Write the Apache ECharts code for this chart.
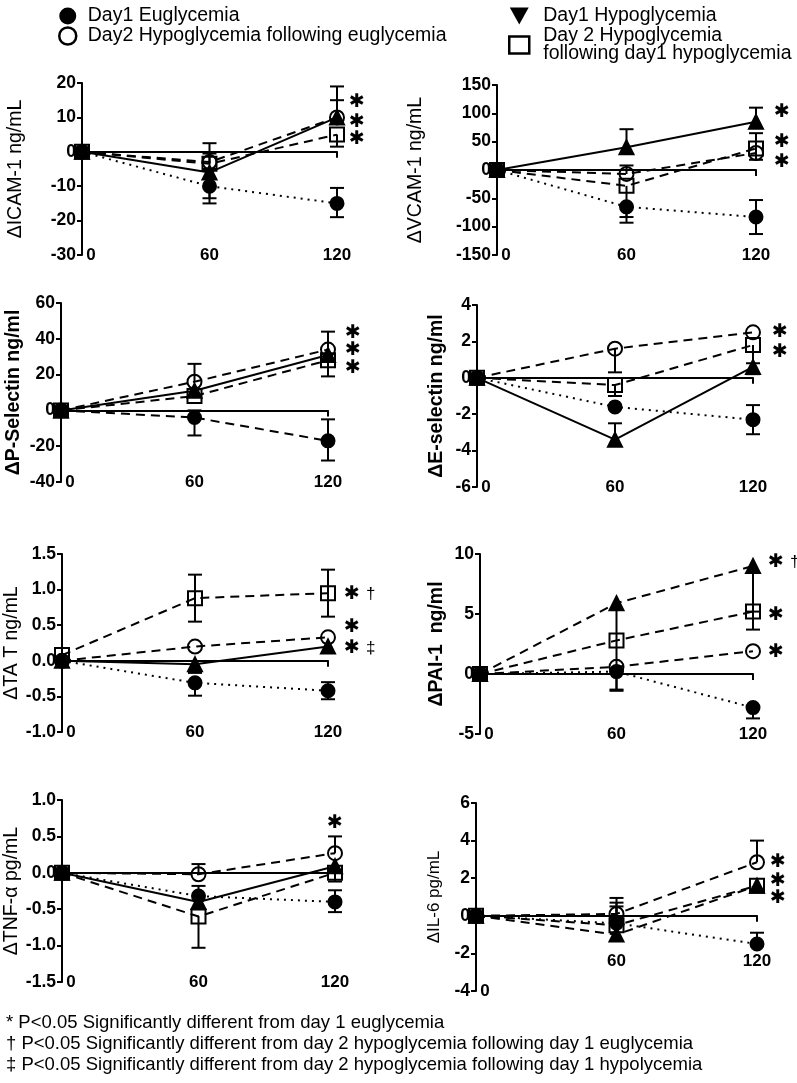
<!DOCTYPE html>
<html>
<head>
<meta charset="utf-8">
<script src="https://cdn.jsdelivr.net/npm/echarts@6/dist/echarts.min.js"></script>
<style>
  html, body { margin: 0; padding: 0; background: #fff; }
  #chart { width: 797px; height: 1083px; }
</style>
</head>
<body>
<div id="chart"></div>
<script>
const times = [0, 60, 120]
const groups = [
  'Day1 Euglycemia',
  'Day2 Hypoglycemia following euglycemia',
  'Day1 Hypoglycemia',
  'Day 2 Hypoglycemia\nfollowing day1 hypoglycemia'
]

// rows follow groups, columns follow times
const icamMean = [[0, -10, -15], [0, -3, 10], [0, -6, 10], [0, -3.5, 5]]
const icamErrDown = [[0, 5, 4], [0, 0, 0], [0, 7.5, 0], [0, 0, 3.5]]
const icamErrUp = [[0, 5, 4.5], [0, 5.5, 9], [0, 0, 5], [0, 3, 0]]

const vcamMean = [[0, -65, -83], [0, -7, 30], [0, 40, 85], [0, -28, 38]]
const vcamErrDown = [[0, 28, 30], [0, 0, 0], [0, 0, 0], [0, 55, 20]]
const vcamErrUp = [[0, 0, 30], [0, 15, 35], [0, 32, 25], [0, 0, 0]]

const pselMean = [[0, -4, -17], [0, 16, 34], [0, 11, 31], [0, 8, 28]]
const pselErrDown = [[0, 10, 11], [0, 0, 0], [0, 0, 0], [0, 0, 9]]
const pselErrUp = [[0, 4, 12], [0, 10, 10], [0, 0, 0], [0, 0, 0]]

const eselMean = [[0, -1.6, -2.3], [0, 1.6, 2.5], [0, -3.4, 0.6], [0, -0.4, 1.8]]
const eselErrDown = [[0, 0, 0.8], [0, 1.3, 0], [0, 0, 0.4], [0, 0.6, 1.0]]
const eselErrUp = [[0, 0, 0.8], [0, 0, 0], [0, 0.9, 0], [0, 0, 0]]

const tatMean = [[0, -0.31, -0.42], [0, 0.2, 0.33], [0, -0.05, 0.2], [0.08, 0.88, 0.95]]
const tatErrDown = [[0, 0.18, 0.12], [0, 0, 0], [0, 0.12, 0], [0, 0.33, 0.33]]
const tatErrUp = [[0, 0, 0.12], [0, 0, 0], [0, 0, 0], [0, 0.33, 0.33]]

const paiMean = [[0, 0.2, -2.8], [0, 0.6, 1.9], [0, 5.9, 9], [0, 2.8, 5.2]]
const paiErrDown = [[0, 1.5, 0.9], [0, 0, 0], [0, 7.3, 3.8], [0, 0, 1.5]]
const paiErrUp = [[0, 0, 0], [0, 0, 0], [0, 0, 0], [0, 0, 0]]

const tnfMean = [[0, -0.32, -0.4], [0, -0.02, 0.27], [0, -0.4, 0.09], [0, -0.6, 0]]
const tnfErrDown = [[0, 0, 0.14], [0, 0, 0], [0, 0, 0], [0, 0.43, 0.12]]
const tnfErrUp = [[0, 0, 0.16], [0, 0.14, 0.23], [0, 0.22, 0], [0, 0, 0]]

const il6Mean = [[0, -0.4, -1.5], [0, 0.1, 2.85], [0, -1.0, 1.6], [0, -0.5, 1.6]]
const il6ErrDown = [[0, 0, 0], [0, 0, 0], [0, 0, 0], [0, 0, 0]]
const il6ErrUp = [[0, 0, 0.6], [0, 0.85, 1.15], [0, 1.5, 0], [0, 1.2, 0]]

const footnotes = [
  '* P<0.05 Significantly different from day 1 euglycemia',
  '† P<0.05 Significantly different from day 2 hypoglycemia following day 1 euglycemia',
  '‡ P<0.05 Significantly different from day 2 hypoglycemia following day 1 hypolycemia'
]

const FONT = 'Liberation Sans, Arial, Helvetica, sans-serif'
const STD = ['dotted', 'dashed', 'solid', 'dashed']

const panels = [
  { title: 'ΔICAM-1 ng/mL', mean: icamMean, down: icamErrDown, up: icamErrUp, min: -30, max: 20, step: 10,
    left: 82, top: 83, width: 255, height: 172, gap: 56, bold: false, lines: STD },
  { title: 'ΔVCAM-1 ng/mL', mean: vcamMean, down: vcamErrDown, up: vcamErrUp, min: -150, max: 150, step: 50,
    left: 497, top: 85, width: 259, height: 170, gap: 71, bold: false, lines: STD },
  { title: 'ΔP-Selectin ng/ml', mean: pselMean, down: pselErrDown, up: pselErrUp, min: -40, max: 60, step: 20,
    left: 61, top: 303, width: 267, height: 179, gap: 37, bold: true, lines: ['dashed', 'dashed', 'solid', 'dashed'] },
  { title: 'ΔE-selectin ng/ml', mean: eselMean, down: eselErrDown, up: eselErrUp, min: -6, max: 4, step: 2,
    left: 477, top: 305, width: 276, height: 182, gap: 30, bold: true, lines: STD },
  { title: 'ΔTA T ng/mL', mean: tatMean, down: tatErrDown, up: tatErrUp, min: -1, max: 1.5, step: 0.5,
    left: 62, top: 554, width: 266, height: 178, gap: 38, bold: false, dec: 1, lines: STD },
  { title: 'ΔPAI-1  ng/ml', mean: paiMean, down: paiErrDown, up: paiErrUp, min: -5, max: 10, step: 5,
    left: 480, top: 554, width: 273, height: 180, gap: 33, bold: true, lines: ['dotted', 'dashed', 'dashed', 'dashed'] },
  { title: 'ΔTNF-α pg/mL', mean: tnfMean, down: tnfErrDown, up: tnfErrUp, min: -1.5, max: 1, step: 0.5,
    left: 62, top: 800, width: 273, height: 182, gap: 39, bold: false, dec: 1, lines: STD },
  { title: 'ΔIL-6 pg/mL', mean: il6Mean, down: il6ErrDown, up: il6ErrUp, min: -4, max: 6, step: 2,
    left: 476, top: 803, width: 281, height: 188, gap: 33, bold: false, titleSize: 17, liftLabels: 60,
    lines: ['dotted', 'dashed', 'dashed', 'dashed'] }
]

// significance marks beside the 120 min points (pixel layout)
const sigMarks = [
  [357, 102, ''], [357, 122, ''], [357, 139, ''],
  [782, 112, ''], [782, 142, ''], [782, 162, ''],
  [353, 333, ''], [353, 350, ''], [353, 368, ''],
  [780, 332, ''], [780, 352, ''],
  [352, 594, '†'], [352, 627, ''], [352, 648, '‡'],
  [776, 562, '†'], [776, 615, ''], [776, 652, ''],
  [335, 823, ''],
  [778, 862, ''], [778, 881, ''], [778, 898, '']
]

const symbols = ['circle', 'circle', 'triangle', 'rect']
const symbolSizes = [13, 14, 14, 14]
const fills = ['#000', 'rgba(0,0,0,0)', '#000', 'rgba(0,0,0,0)']
const dashes = { dotted: [2, 5], dashed: [9, 6], solid: 'solid' }

function renderErrorBar(params, api) {
  const x = api.value(0), m = api.value(1), lo = api.value(2), hi = api.value(3)
  const pLo = api.coord([x, lo])
  const pHi = api.coord([x, hi])
  const cap = 7
  const style = { stroke: '#000', lineWidth: 2 }
  const children = [{ type: 'line', shape: { x1: pLo[0], y1: pLo[1], x2: pHi[0], y2: pHi[1] }, style }]
  if (lo < m) children.push({ type: 'line', shape: { x1: pLo[0] - cap, y1: pLo[1], x2: pLo[0] + cap, y2: pLo[1] }, style })
  if (hi > m) children.push({ type: 'line', shape: { x1: pHi[0] - cap, y1: pHi[1], x2: pHi[0] + cap, y2: pHi[1] }, style })
  return { type: 'group', children }
}

const grid = [], xAxis = [], yAxis = [], series = []

panels.forEach((p, i) => {
  grid.push({ left: p.left, top: p.top, width: p.width, height: p.height, outerBoundsMode: 'none' })

  // the axis line sits on y = 0, its labels stay along the bottom edge
  const lift = p.liftLabels || 0
  xAxis.push({
    type: 'value', gridIndex: i, position: 'bottom', min: 0, max: 120, interval: 60,
    axisLine: { show: true, onZero: true, lineStyle: { color: '#000', width: 2 } },
    axisTick: { show: true, customValues: [120], length: 6, lineStyle: { color: '#000', width: 2 } },
    splitLine: { show: false },
    axisLabel: {
      margin: 0, verticalAlign: 'middle', color: '#000', fontFamily: FONT, fontSize: 17, fontWeight: 'bold',
      formatter: v => v === 0 ? '{z|0}' : (lift ? '{up|' + v + '}' : String(v)),
      rich: {
        z: { padding: [0, 0, 0, 18], fontFamily: FONT, fontSize: 17, fontWeight: 'bold', color: '#000' },
        up: { padding: [0, 0, lift, 0], fontFamily: FONT, fontSize: 17, fontWeight: 'bold', color: '#000' }
      }
    }
  })
  yAxis.push({
    type: 'value', gridIndex: i, min: p.min, max: p.max, interval: p.step,
    name: p.title, nameLocation: 'middle', nameRotate: 90, nameGap: p.gap,
    nameTextStyle: { color: '#000', fontFamily: FONT, fontSize: p.titleSize || 19.5, fontWeight: p.bold ? 'bold' : 'normal' },
    axisLine: { show: true, onZero: false, lineStyle: { color: '#000', width: 2 } },
    axisTick: { show: true, length: 5, lineStyle: { color: '#000', width: 2 } },
    axisLabel: {
      margin: 6, color: '#000', fontFamily: FONT, fontSize: 17.5, fontWeight: 'bold',
      formatter: v => p.dec ? v.toFixed(p.dec) : String(v)
    },
    splitLine: { show: false }
  })

  groups.forEach((name, g) => {
    series.push({
      name, type: 'line', xAxisIndex: i, yAxisIndex: i, z: 3, clip: false,
      data: times.map((t, k) => [t, p.mean[g][k]]),
      symbol: symbols[g], symbolSize: symbolSizes[g],
      lineStyle: { color: '#000', width: 2, type: dashes[p.lines[g]] },
      itemStyle: { color: fills[g], borderColor: '#000', borderWidth: 2 }
    })
    const bars = []
    times.forEach((t, k) => {
      const m = p.mean[g][k], d = p.down[g][k], u = p.up[g][k]
      if (d > 0 || u > 0) bars.push([t, m, m - d, m + u])
    })
    series.push({
      name, type: 'custom', xAxisIndex: i, yAxisIndex: i, z: 2,
      renderItem: renderErrorBar, data: bars, encode: { x: 0, y: [2, 3] }
    })
  })
})

const graphic = []
sigMarks.forEach(([x, y, extra]) => {
  graphic.push({ type: 'text', x, y, style: { text: '✱', fill: '#000', font: 'bold 19px DejaVu Sans', align: 'center', verticalAlign: 'middle' } })
  if (extra) graphic.push({ type: 'text', x: x + 14, y, style: { text: extra, fill: '#000', font: '17px ' + FONT, align: 'left', verticalAlign: 'middle' } })
})
footnotes.forEach((t, k) => {
  graphic.push({ type: 'text', x: 6, y: 1023 + 21 * k, style: { text: t, fill: '#000', font: '18.5px ' + FONT, verticalAlign: 'middle' } })
})

const legendText = { color: '#000', fontFamily: FONT, fontSize: 19.5, lineHeight: 18, padding: [0, 0, 0, 6] }

const chart = echarts.init(document.getElementById('chart'), null, { renderer: 'canvas' })
chart.setOption({
  animation: false,
  backgroundColor: '#fff',
  legend: [
    {
      orient: 'vertical', left: 53, top: 1, itemGap: 0, itemWidth: 18, itemHeight: 17,
      selectedMode: false, textStyle: legendText,
      data: [
        { name: groups[0], icon: 'circle', itemStyle: { color: '#000', borderWidth: 0 } },
        { name: groups[1], icon: 'circle', itemStyle: { color: 'rgba(0,0,0,0)', borderColor: '#000', borderWidth: 2.5 } }
      ]
    },
    {
      orient: 'vertical', left: 503, top: 1, itemGap: 0, itemWidth: 20, itemHeight: 17,
      selectedMode: false, textStyle: Object.assign({}, legendText, { padding: [0, 0, 0, 9] }),
      data: [
        { name: groups[2], icon: 'path://M0,0 L20,0 L10,18 Z', itemStyle: { color: '#000', borderWidth: 0 } },
        { name: groups[3], icon: 'rect', itemStyle: { color: 'rgba(0,0,0,0)', borderColor: '#000', borderWidth: 2.5 } }
      ]
    }
  ],
  grid, xAxis, yAxis, series, graphic
})
</script>
</body>
</html>
